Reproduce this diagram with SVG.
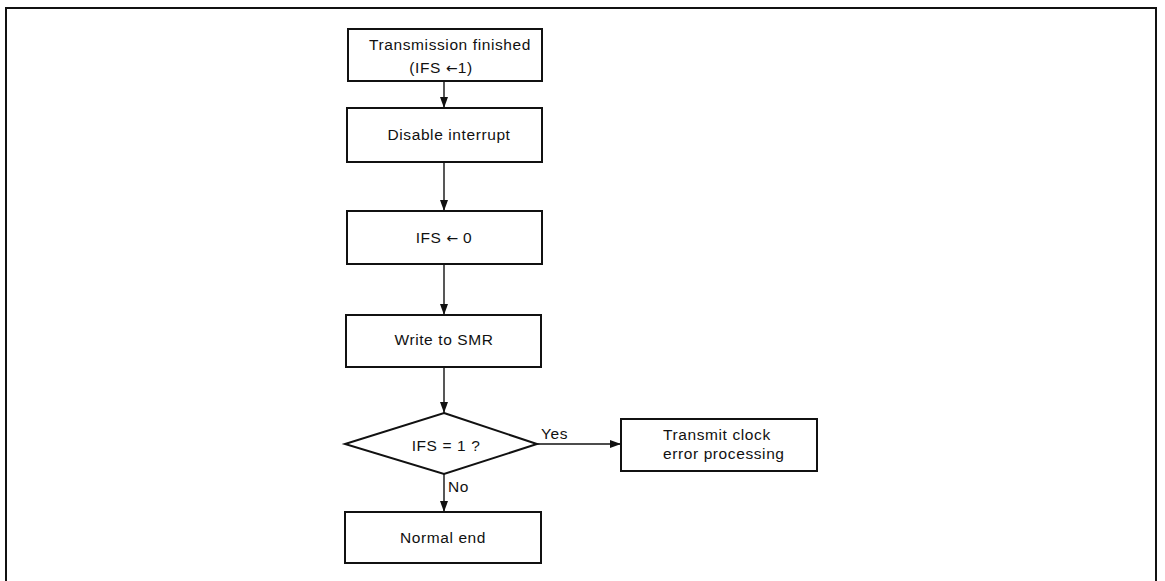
<svg xmlns="http://www.w3.org/2000/svg" width="1165" height="581" viewBox="0 0 1165 581">
<defs>
<style>
.box{fill:#fff;stroke:#111;stroke-width:2}
.t{font-family:"Liberation Sans",Arial,sans-serif;font-size:15.5px;fill:#111;letter-spacing:0.6px}
.c{text-anchor:middle}
.ar{font-family:"DejaVu Sans",sans-serif;font-size:14px;letter-spacing:0}
.ln{stroke:#111;stroke-width:1.4;fill:none}
</style>
<marker id="ah" markerWidth="11" markerHeight="8" refX="11" refY="4" orient="auto" markerUnits="userSpaceOnUse">
<path d="M0,0 L11,4 L0,8 Z" fill="#111"/>
</marker>
</defs>
<rect width="1165" height="581" fill="#fff"/>
<path d="M6,590 V8 H1156 V590" fill="none" stroke="#111" stroke-width="2"/>
<g id="connectors">
<line class="ln" x1="444" y1="81" x2="444" y2="108" marker-end="url(#ah)"/>
<line class="ln" x1="444" y1="162" x2="444" y2="211" marker-end="url(#ah)"/>
<line class="ln" x1="444" y1="264" x2="444" y2="315" marker-end="url(#ah)"/>
<line class="ln" x1="444" y1="367" x2="444" y2="413" marker-end="url(#ah)"/>
<line class="ln" x1="444" y1="474" x2="444" y2="512" marker-end="url(#ah)"/>
<line class="ln" x1="537" y1="444" x2="621" y2="444" marker-end="url(#ah)"/>
<text class="t" x="541" y="439">Yes</text>
<text class="t" x="448" y="492">No</text>
</g>
<g id="n1">
<rect class="box" x="348" y="29" width="194" height="52"/>
<text class="t c" x="450" y="50">Transmission finished</text>
<text class="t c" x="441" y="73">(IFS <tspan class="ar">←</tspan>1)</text>
</g>
<g id="n2">
<rect class="box" x="347" y="108" width="195" height="54"/>
<text class="t c" x="449" y="140">Disable interrupt</text>
</g>
<g id="n3">
<rect class="box" x="347" y="211" width="195" height="53"/>
<text class="t c" x="444" y="243">IFS <tspan class="ar">←</tspan> 0</text>
</g>
<g id="n4">
<rect class="box" x="346" y="315" width="195" height="52"/>
<text class="t c" x="444" y="345">Write to SMR</text>
</g>
<g id="n5">
<polygon class="box" points="444,413 537,444 444,474 345,444"/>
<text class="t c" x="446" y="451">IFS = 1 ?</text>
</g>
<g id="n6">
<rect class="box" x="621" y="419" width="196" height="52"/>
<text class="t" x="663" y="440">Transmit clock</text>
<text class="t" x="663" y="459">error processing</text>
</g>
<g id="n7">
<rect class="box" x="345" y="512" width="196" height="51"/>
<text class="t c" x="443" y="543">Normal end</text>
</g>
</svg>
